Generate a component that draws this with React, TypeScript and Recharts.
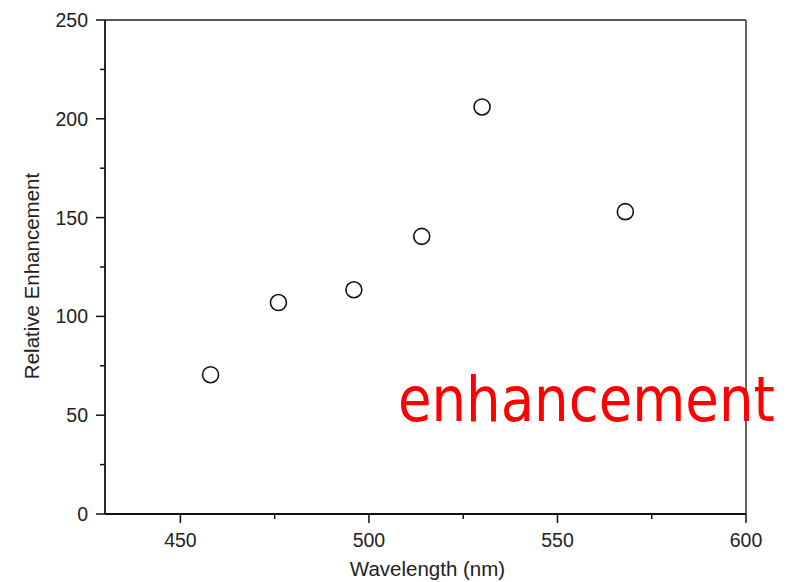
import React from 'react';
import { ScatterChart, Scatter, XAxis, YAxis, ReferenceLine } from 'recharts';

const wavelengths = [458, 476, 496, 514, 530, 568];
const enhancements = [70.5, 107, 113.5, 140.5, 206, 153];
const xTicks = [450, 475, 500, 525, 550, 575, 600];
const yTicks = [0, 25, 50, 75, 100, 125, 150, 175, 200, 225, 250];
const xLabel = 'Wavelength (nm)';
const yLabel = 'Relative Enhancement';
const stamp = 'enhancement';

const data = wavelengths.map((w, i) => ({ x: w, y: enhancements[i] }));

const FONT = "'Liberation Sans', Arial, sans-serif";
const TXT = '#222';

const XTick = (props: any) => {
  const { x, y, payload } = props;
  const v = payload.value as number;
  const major = v % 50 === 0;
  return (
    <g>
      <line x1={x} y1={y} x2={x} y2={y + (major ? 9 : 5)} stroke="#111" strokeWidth={1.5} />
      {major && (
        <text x={x} y={y + 33} textAnchor="middle" fontSize={19.5} fontFamily={FONT} fill={TXT}>
          {v}
        </text>
      )}
    </g>
  );
};

const YTick = (props: any) => {
  const { x, y, payload } = props;
  const v = payload.value as number;
  const major = v % 50 === 0;
  return (
    <g>
      <line x1={x} y1={y} x2={x - (major ? 9 : 5)} y2={y} stroke="#111" strokeWidth={1.5} />
      {major && (
        <text x={x - 17} y={y} dy="0.36em" textAnchor="end" fontSize={19.5} fontFamily={FONT} fill={TXT}>
          {v}
        </text>
      )}
    </g>
  );
};

const Ring = (props: any) => {
  const { cx, cy } = props;
  return <circle cx={cx} cy={cy} r={8} fill="#fff" stroke="#111" strokeWidth={1.6} />;
};

export default function App() {
  return (
    <div style={{ position: 'absolute', left: 0, top: 0, width: 787, height: 582, background: '#fff' }}>
      <ScatterChart width={787} height={582} margin={{ top: 20, right: 41, bottom: 0, left: 0 }}>
        <XAxis
          type="number"
          dataKey="x"
          domain={[430, 600]}
          ticks={xTicks}
          allowDataOverflow
          height={68}
          tickSize={0}
          tickMargin={0}
          tickLine={false}
          axisLine={{ stroke: '#111', strokeWidth: 1.8 }}
          tick={<XTick />}
          interval={0}
          label={{
            content: (p: any) => {
              const vb = p.viewBox;
              return (
                <text x={vb.x + vb.width / 2 + 2} y={vb.y + vb.height - 6} textAnchor="middle" fontSize={20.5} fontFamily={FONT} fill={TXT}>
                  {xLabel}
                </text>
              );
            },
          }}
        />
        <YAxis
          type="number"
          dataKey="y"
          domain={[0, 250]}
          ticks={yTicks}
          allowDataOverflow
          width={105}
          tickSize={0}
          tickMargin={0}
          tickLine={false}
          axisLine={{ stroke: '#111', strokeWidth: 1.8 }}
          tick={<YTick />}
          interval={0}
          label={{
            content: (p: any) => {
              const vb = p.viewBox;
              const cx = vb.x + 32;
              const cy = vb.y + vb.height / 2 + 9;
              return (
                <text x={cx} y={cy} dy="0.36em" transform={`rotate(-90, ${cx}, ${cy})`} textAnchor="middle" fontSize={20.5} fontFamily={FONT} fill={TXT}>
                  {yLabel}
                </text>
              );
            },
          }}
        />
        <ReferenceLine y={250} stroke="#555" strokeWidth={1.8} />
        <ReferenceLine x={600} stroke="#555" strokeWidth={1.8} />
        <Scatter data={data} shape={<Ring />} isAnimationActive={false} />
      </ScatterChart>
      <svg width={787} height={582} style={{ position: 'absolute', left: 0, top: 0, pointerEvents: 'none' }}>
        <g transform="translate(398, 421) scale(0.88, 1)">
          <text
            x={0}
            y={0}
            fill="#ff0000"
            fontSize={62}
            fontFamily="'Comic Sans MS', 'DejaVu Sans', sans-serif"
          >
            {stamp}
          </text>
        </g>
      </svg>
    </div>
  );
}
